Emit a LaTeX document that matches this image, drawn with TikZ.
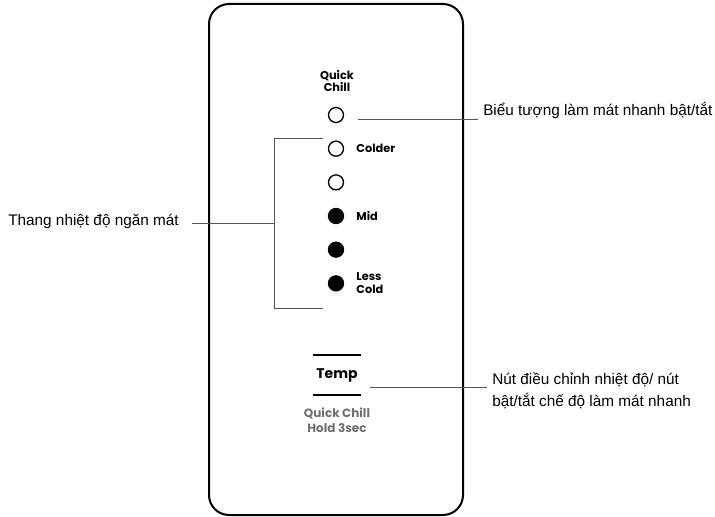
\documentclass[tikz,border=0pt]{standalone}
\usepackage{fontspec}
\setmainfont{Liberation Sans}
\newfontfamily\panelfont{Poppins}
\usetikzlibrary{positioning}
\definecolor{leadgray}{HTML}{555555}
\definecolor{hintgray}{HTML}{6E6E6E}
\tikzset{lamp/.style={circle,draw,line width=1pt,minimum size=11.25pt,inner sep=0pt},lampon/.style={lamp,fill=black},key/.style={font=\panelfont\bfseries\fontsize{8.5}{9.5}\selectfont,align=left,inner sep=0pt},note/.style={font=\fontsize{11.5}{16.5}\selectfont,align=left,inner sep=0pt},lead/.style={draw=leadgray,line width=0.75pt},bar/.style={line width=1.8pt}}

\begin{document}
\begin{tikzpicture}[x=0.75pt,y=-0.75pt,node distance=13pt]
\useasboundingbox (0,0) rectangle (715,517);
\draw[line width=1.5pt,rounded corners=15pt] (209,4) rectangle (463,515);
\node[key,align=center] (qc) at (337,81) {Quick\\Chill};
\node[lamp] (l1) at (336,115) {};
\node[lamp,below=of l1] (l2) {};
\node[lamp,below=of l2] (l3) {};
\node[lampon,below=of l3] (l4) {};
\node[lampon,below=of l4] (l5) {};
\node[lampon,below=of l5] (l6) {};
\node[key,right=9pt of l2] (colder) {Colder};
\node[key,right=9pt of l4] (mid) {Mid};
\node[key,right=9pt of l6] (less) {Less\\Cold};
% bracket around the scale
\coordinate (bt) at (323,139);
\coordinate (bb) at (323,308);
\coordinate (bm) at (274,223);
\draw[lead] (bt) -- ++(-49,0) |- (bb);
\node[note,anchor=west] (scale) at (8,221) {Thang nhiệt độ ngăn mát};
\draw[lead] ([xshift=10pt]scale.east |- bm) -- (bm);
\node[note,anchor=base west] (qnote) at (483,116) {Biểu tượng làm mát nhanh bật/tắt};
\coordinate (qa) at (358,120);
\draw[lead] (qa) -- ([xshift=-4pt]qnote.west |- qa);
% temp button
\node[key,font=\panelfont\bfseries\fontsize{10.5}{12}\selectfont] (temp) at (337,375) {Temp};
\draw[bar] (313,355) -- (361,355);
\draw[bar] (313,395) -- (361,395);
\node[key,align=center,text=hintgray,font=\panelfont\bfseries\fontsize{9}{11.25}\selectfont] (hold) at (337,420) {Quick Chill\\Hold 3sec};
\node[note,anchor=west] (tnote) at (492,391) {Nút điều chỉnh nhiệt độ/ nút\\bật/tắt chế độ làm mát nhanh};
\coordinate (ta) at (370,387);
\draw[lead] (ta) -- ([xshift=-4pt]tnote.west |- ta);
\end{tikzpicture}
\end{document}
